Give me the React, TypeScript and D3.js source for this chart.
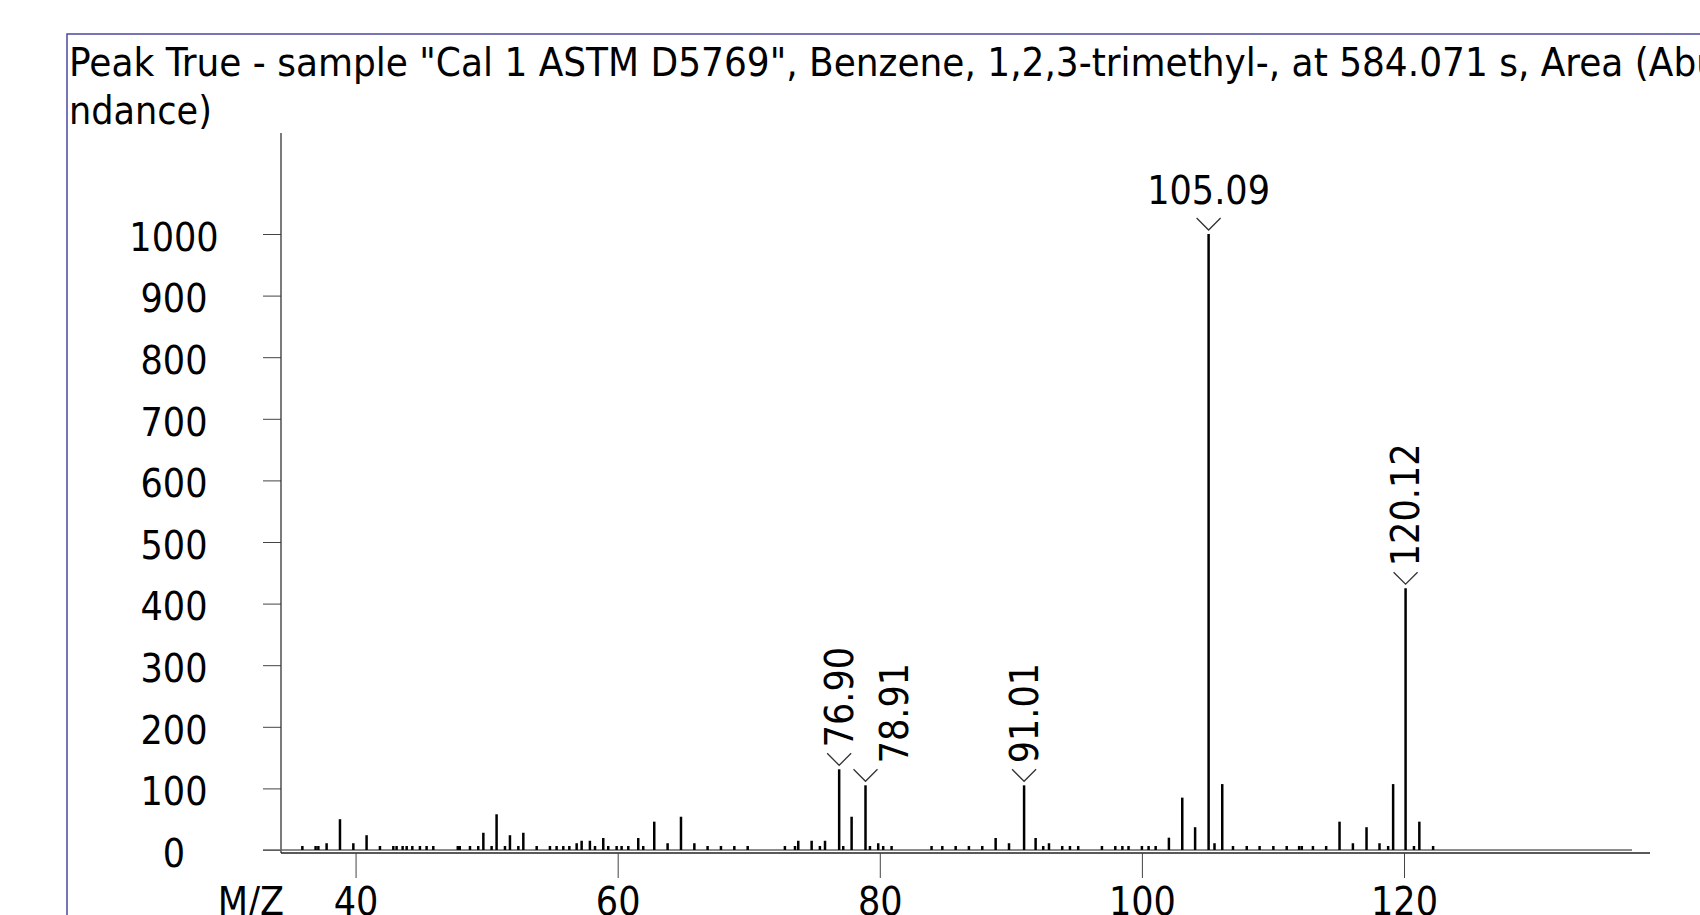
import React, { useRef, useEffect } from "react";
import * as d3 from "d3";

// chart text
const titleLines = [
  'Peak True - sample "Cal 1 ASTM D5769", Benzene, 1,2,3-trimethyl-, at 584.071 s, Area (Abu',
  "ndance)",
];
const xAxisTitle = "M/Z";

// axis ticks
const xTicks = [40, 60, 80, 100, 120];
const yTicks = [0, 100, 200, 300, 400, 500, 600, 700, 800, 900, 1000];

// spectrum
const mzValues = [
  35.94, 36.95, 37.16, 37.79, 38.81, 39.83, 40.84, 41.86, 42.88, 43.13, 43.59, 43.9, 44.33,
  44.91, 45.42, 45.93, 47.8, 47.95, 48.73, 49.36, 49.75, 50.38, 50.76, 51.4, 51.78, 52.42,
  52.8, 53.82, 54.83, 55.34, 55.85, 56.31, 56.87, 57.25, 57.88, 58.27, 58.9, 59.28, 59.92,
  60.3, 60.81, 61.57, 61.95, 62.79, 63.81, 64.83, 65.85, 66.86, 67.88, 68.9, 69.92, 72.76,
  73.53, 73.78, 74.8, 75.43, 75.82, 76.9, 77.21, 77.85, 78.91, 79.25, 79.88, 80.26, 80.9,
  83.95, 84.77, 85.79, 86.8, 87.82, 88.84, 89.86, 91.01, 91.89, 92.47, 92.91, 93.92, 94.51,
  95.14, 96.95, 97.97, 98.51, 98.98, 100.0, 100.51, 101.05, 102.06, 103.08, 104.06, 105.09,
  105.54, 106.13, 106.95, 108.0, 108.98, 110.03, 111.05, 112.0, 112.2, 113.05, 114.06,
  115.08, 116.1, 117.14, 118.13, 118.79, 119.17, 120.12, 120.76, 121.17, 122.22,
];
const abundances = [
  6.5, 6.5, 6.5, 11, 50, 11, 24, 6.5, 6.5, 6.5, 6.5, 6.5, 6.5,
  6.5, 6.5, 6.5, 6.5, 6.5, 6.5, 6.5, 28, 6.5, 58, 6.5, 24, 6.5,
  28, 6.5, 6.5, 6.5, 6.5, 6.5, 11, 15, 15, 6.5, 19.5, 6.5, 6.5,
  6.5, 6.5, 19.5, 6.5, 46, 11, 54, 11, 6.5, 6.5, 6.5, 6.5, 6.5,
  6.5, 15, 15, 6.5, 15, 131, 6.5, 54, 105, 6.5, 11, 6.5, 6.5,
  6.5, 6.5, 6.5, 6.5, 6.5, 19.5, 11, 105, 19.5, 6.5, 11, 6.5, 6.5,
  6.5, 6.5, 6.5, 6.5, 6.5, 6.5, 6.5, 6.5, 20, 85, 37, 1000,
  11, 107, 6.5, 6.5, 6.5, 6.5, 6.5, 6.5, 6.5, 6.5, 6.5,
  46, 11, 37, 11, 6.5, 107, 425, 6.5, 46, 6.5,
];
const labelledPeaks = [76.9, 78.91, 91.01, 105.09, 120.12];

const FONT = "'DejaVu Sans Condensed', 'DejaVu Sans', sans-serif";

export default function App() {
  const svgRef = useRef<SVGSVGElement>(null);

  useEffect(() => {
    const svg = d3.select(svgRef.current);
    svg.selectAll("*").remove();
    svg.attr("font-family", FONT).style("font-stretch", "condensed");

    const x = d3.scaleLinear().domain([34.31, 138.77]).range([281, 1650]);
    const y = d3.scaleLinear().domain([0, 1000]).range([850, 234]);

    // frame
    svg
      .append("rect")
      .attr("x", 67)
      .attr("y", 34)
      .attr("width", 1700)
      .attr("height", 950)
      .attr("fill", "none")
      .attr("stroke", "#4a4aa0")
      .attr("stroke-width", 1.5);

    // title, wrapped over two lines
    svg
      .append("text")
      .attr("x", 69)
      .attr("y", 76)
      .attr("font-size", 39)
      .attr("textLength", 1650)
      .attr("lengthAdjust", "spacingAndGlyphs")
      .text(titleLines[0]);
    svg
      .append("text")
      .attr("x", 69)
      .attr("y", 124)
      .attr("font-size", 39)
      .text(titleLines[1]);

    // y axis
    const gy = svg
      .append("g")
      .attr("transform", "translate(281,0)")
      .call(d3.axisLeft(y).tickValues(yTicks).tickSize(18).tickFormat(d3.format("d")));
    gy.select(".domain").remove();
    gy.attr("font-family", FONT).attr("font-size", 39);
    gy.selectAll(".tick line").attr("stroke", "#444");
    gy.selectAll(".tick text")
      .attr("x", -107)
      .attr("dy", "0.42em")
      .attr("text-anchor", "middle")
      .attr("fill", "#000");
    svg
      .append("line")
      .attr("x1", 281)
      .attr("x2", 281)
      .attr("y1", 133)
      .attr("y2", 853)
      .attr("stroke", "#333")
      .attr("stroke-width", 1.3);

    // zero baseline and x axis
    svg
      .append("line")
      .attr("x1", 263)
      .attr("x2", 1632)
      .attr("y1", y(0))
      .attr("y2", y(0))
      .attr("stroke", "#666")
      .attr("stroke-width", 1.3);
    svg
      .append("line")
      .attr("x1", 281)
      .attr("x2", 1650)
      .attr("y1", 853)
      .attr("y2", 853)
      .attr("stroke", "#222")
      .attr("stroke-width", 1.3);

    const gx = svg
      .append("g")
      .attr("transform", "translate(0,853)")
      .call(d3.axisBottom(x).tickValues(xTicks).tickSize(25).tickPadding(9).tickFormat(d3.format("d")));
    gx.select(".domain").remove();
    gx.attr("font-family", FONT).attr("font-size", 39);
    gx.selectAll(".tick line").attr("stroke", "#444");
    gx.selectAll(".tick text").attr("fill", "#000");

    svg
      .append("text")
      .attr("x", 284)
      .attr("y", 853 + 34)
      .attr("dy", "0.71em")
      .attr("text-anchor", "end")
      .attr("font-size", 39)
      .text(xAxisTitle);

    // sticks
    const peaks = mzValues.map((mz, i) => ({ mz, value: abundances[i] }));
    svg
      .append("g")
      .selectAll("line")
      .data(peaks)
      .join("line")
      .attr("x1", (d) => x(d.mz))
      .attr("x2", (d) => x(d.mz))
      .attr("y1", y(0))
      .attr("y2", (d) => y(d.value))
      .attr("stroke", "#000")
      .attr("stroke-width", 2.5);

    // peak labels
    const maxValue = d3.max(peaks, (d) => d.value) as number;
    const labelled = peaks.filter((d) => labelledPeaks.includes(d.mz));
    const gl = svg.append("g").attr("font-size", 39);
    let lastRight = -Infinity;
    labelled.forEach((d) => {
      const px = x(d.mz);
      const top = y(d.value);
      gl.append("path")
        .attr("d", `M${px - 12},${top - 16}L${px},${top - 4}L${px + 12},${top - 16}`)
        .attr("fill", "none")
        .attr("stroke", "#333")
        .attr("stroke-width", 1.3);
      const text = d.mz.toFixed(2);
      if (d.value === maxValue) {
        gl.append("text")
          .attr("x", px)
          .attr("y", top - 30)
          .attr("text-anchor", "middle")
          .text(text);
        return;
      }
      let cx = px;
      if (cx - 15 < lastRight + 2) cx = lastRight + 25 + 15;
      lastRight = cx + 15;
      gl.append("text")
        .attr("transform", `translate(${cx},${top - 22}) rotate(-90)`)
        .attr("dominant-baseline", "central")
        .text(text);
    });
  }, []);

  return (
    <svg
      ref={svgRef}
      width={1700}
      height={915}
      style={{ position: "fixed", left: 0, top: 0, background: "#fff" }}
    />
  );
}
